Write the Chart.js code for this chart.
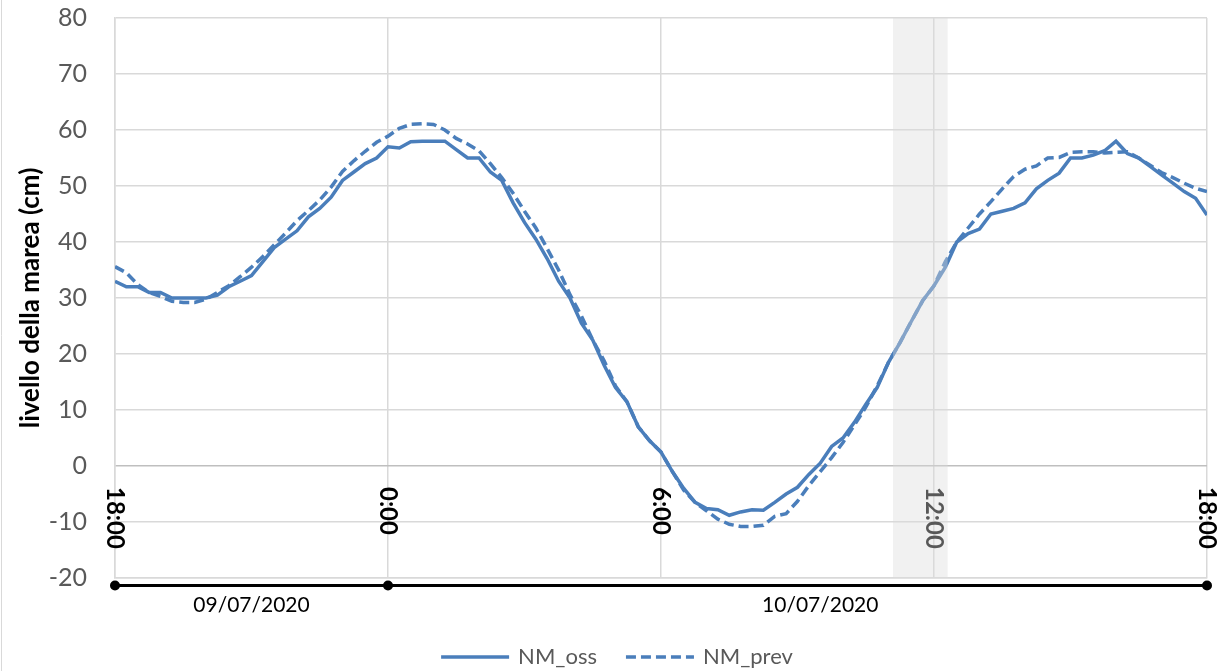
<!DOCTYPE html>
<html>
<head>
<meta charset="utf-8">
<script src="https://cdn.jsdelivr.net/npm/chart.js@4.4.1/dist/chart.umd.min.js"></script>
<style>
  body { margin: 0; background: #fff; }
  #wrap { width: 1221px; height: 671px; position: relative; }
</style>
</head>
<body>
<div id="wrap"><canvas id="tide"></canvas></div>
<script>
// one reading every 15 minutes, from 09/07 18:00 to 10/07 18:00
const stepHours = 0.25;

const nmOss = [
  33, 32, 32, 31, 31, 30, 30, 30,
  30, 30.5, 32, 33, 34, 36.5, 39, 40.5,
  42, 44.5, 46, 48, 51, 52.5, 54, 55,
  57, 56.8, 57.9, 58, 58, 58, 56.5, 55,
  55, 52.5, 51, 47, 43.5, 40.5, 37, 33,
  30, 25.5, 22.5, 18, 14, 11.5, 7, 4.5,
  2.5, -1, -4, -6.5, -7.6, -7.8, -8.8, -8.2,
  -7.8, -7.9, -6.5, -5, -3.8, -1.5, 0.5, 3.5,
  5, 7.8, 11, 14, 18.5, 22, 25.8, 29.5,
  32.2, 35.5, 40, 41.5, 42.3, 45, 45.5, 46,
  47, 49.5, 51, 52.3, 55, 55, 55.5, 56.3,
  58, 55.8, 55, 53.5, 52, 50.5, 49, 47.8,
  44.8
];

const nmPrev = [
  35.6, 34.5, 32.4, 31, 30.3, 29.4, 29.2, 29.2,
  29.8, 31, 32.2, 33.8, 35.5, 37.4, 39.5, 41.6,
  43.8, 45.6, 47.5, 49.8, 52.6, 54.5, 56.2, 57.8,
  58.9, 60.3, 61, 61.1, 61, 60, 58.5, 57.5,
  56.3, 54, 51.5, 48.7, 45.5, 42.5, 38.8, 35,
  30.6, 26.8, 22.5, 18.8, 14.3, 11.5, 7, 4.5,
  2.5, -1, -4.3, -6.5, -8, -9.5, -10.4, -10.8,
  -10.8, -10.6, -9, -8.5, -6.3, -3.5, -1, 1.5,
  4.2, 7.3, 10.5, 14.3, 18.5, 22, 25.8, 29.5,
  32.2, 36.5, 40, 42.5, 45, 47.2, 49.5, 51.7,
  53, 53.6, 55, 55.1, 56, 56.1, 56.1, 55.9,
  56, 56.1, 55, 53.7, 52.4, 51.5, 50.5, 49.6,
  49
];

const tickLabels = ['18:00', '0:00', '6:00', '12:00', '18:00'];
const dateLabels = ['09/07/2020', '10/07/2020'];
const dateBreaks = [0, 6, 24];      // hours where the day groups begin / end
const dateCenters = [3, 15.5];      // where each date label sits (hours)
const greyBand = [17.1, 18.3];      // shaded window (hours)

const blue = '#4a7ebb';
const toPoints = (arr) => arr.map((v, i) => ({ x: i * stepHours, y: v }));

// draws the rotated time labels, the date axis, the legend and the grey band
const decor = {
  id: 'decor',
  afterDraw(chart) {
    const { ctx, chartArea: a, scales: { x, y } } = chart;
    ctx.save();

    // outer frame, left edge
    ctx.strokeStyle = '#d9d9d9';
    ctx.lineWidth = 1;
    ctx.beginPath();
    ctx.moveTo(1.5, 0);
    ctx.lineTo(1.5, chart.height);
    ctx.stroke();

    // time labels, rotated clockwise, just below the zero line
    const y0 = y.getPixelForValue(0);
    ctx.font = 'bold 24px Lato';
    ctx.fillStyle = '#000';
    ctx.textAlign = 'left';
    ctx.textBaseline = 'middle';
    tickLabels.forEach((lab, i) => {
      ctx.save();
      ctx.translate(x.getPixelForValue(i * 6), y0 + 21);
      ctx.rotate(Math.PI / 2);
      ctx.fillText(lab, 0, 0);
      ctx.restore();
    });

    // date level of the axis
    const lineY = 585.5;
    ctx.strokeStyle = '#000';
    ctx.fillStyle = '#000';
    ctx.lineWidth = 3;
    ctx.beginPath();
    ctx.moveTo(x.getPixelForValue(dateBreaks[0]), lineY);
    ctx.lineTo(x.getPixelForValue(dateBreaks[dateBreaks.length - 1]), lineY);
    ctx.stroke();
    dateBreaks.forEach((h) => {
      ctx.beginPath();
      ctx.arc(x.getPixelForValue(h), lineY, 5, 0, Math.PI * 2);
      ctx.fill();
    });
    ctx.font = '21px Lato';
    ctx.textAlign = 'center';
    dateLabels.forEach((lab, i) => {
      ctx.fillText(lab, x.getPixelForValue(dateCenters[i]), 605);
    });

    // legend
    const items = chart.data.datasets.map((ds) => ({ label: ds.label, dash: ds.borderDash || [] }));
    ctx.font = '22px Lato';
    const sample = 68, gapIn = 9, gapOut = 29;
    const widths = items.map((it) => sample + gapIn + ctx.measureText(it.label).width);
    const total = widths.reduce((s, w) => s + w, 0) + gapOut * (items.length - 1);
    let lx = 617 - total / 2;
    const ly = 657;
    items.forEach((it, i) => {
      ctx.strokeStyle = blue;
      ctx.lineWidth = 3.5;
      ctx.setLineDash(it.dash);
      ctx.beginPath();
      ctx.moveTo(lx, ly);
      ctx.lineTo(lx + sample, ly);
      ctx.stroke();
      ctx.setLineDash([]);
      ctx.fillStyle = '#595959';
      ctx.textAlign = 'left';
      ctx.fillText(it.label, lx + sample + gapIn, ly);
      lx += widths[i] + gapOut;
    });

    // shaded window, laid over lines and labels
    const bx0 = x.getPixelForValue(greyBand[0]);
    const bx1 = x.getPixelForValue(greyBand[1]);
    ctx.fillStyle = 'rgba(220,220,220,0.4)';
    ctx.fillRect(bx0, a.top, bx1 - bx0, a.bottom - a.top);

    ctx.restore();
  }
};

new Chart(document.getElementById('tide'), {
  type: 'line',
  data: {
    datasets: [
      {
        label: 'NM_oss',
        data: toPoints(nmOss),
        borderColor: blue,
        borderWidth: 3.5,
        pointRadius: 0,
        tension: 0,
      },
      {
        label: 'NM_prev',
        data: toPoints(nmPrev),
        borderColor: blue,
        borderWidth: 3.5,
        borderDash: [10, 5],
        pointRadius: 0,
        tension: 0,
      },
    ],
  },
  options: {
    responsive: true,
    maintainAspectRatio: false,
    animation: false,
    layout: { padding: { top: 18, right: 14, left: 0, bottom: 0 } },
    plugins: {
      legend: { display: false },
      tooltip: { enabled: false },
    },
    scales: {
      x: {
        type: 'linear',
        min: 0,
        max: 24,
        ticks: { display: false, stepSize: 6 },
        grid: { color: '#d9d9d9', lineWidth: 1.5, drawTicks: false },
        border: { color: '#d9d9d9', width: 1.5 },
        afterFit: (s) => { s.height = 93; s.paddingLeft = 0; s.paddingRight = 0; },
      },
      y: {
        min: -20,
        max: 80,
        ticks: {
          stepSize: 10,
          color: '#595959',
          font: { family: 'Lato', size: 25 },
          padding: 28,
        },
        grid: {
          color: (c) => (c.tick && c.tick.value === 0 ? '#bfbfbf' : '#d9d9d9'),
          lineWidth: 1.5,
          drawTicks: false,
        },
        border: { color: '#d9d9d9', width: 1.5 },
        title: {
          display: true,
          text: 'livello della marea (cm)',
          color: '#000',
          font: { family: 'Lato', size: 26, weight: 'bold' },
          padding: { top: 15, bottom: 4 },
        },
        afterFit: (s) => { s.width = 115; s.paddingTop = 0; s.paddingBottom = 0; },
      },
    },
  },
  plugins: [decor],
});
</script>
</body>
</html>
